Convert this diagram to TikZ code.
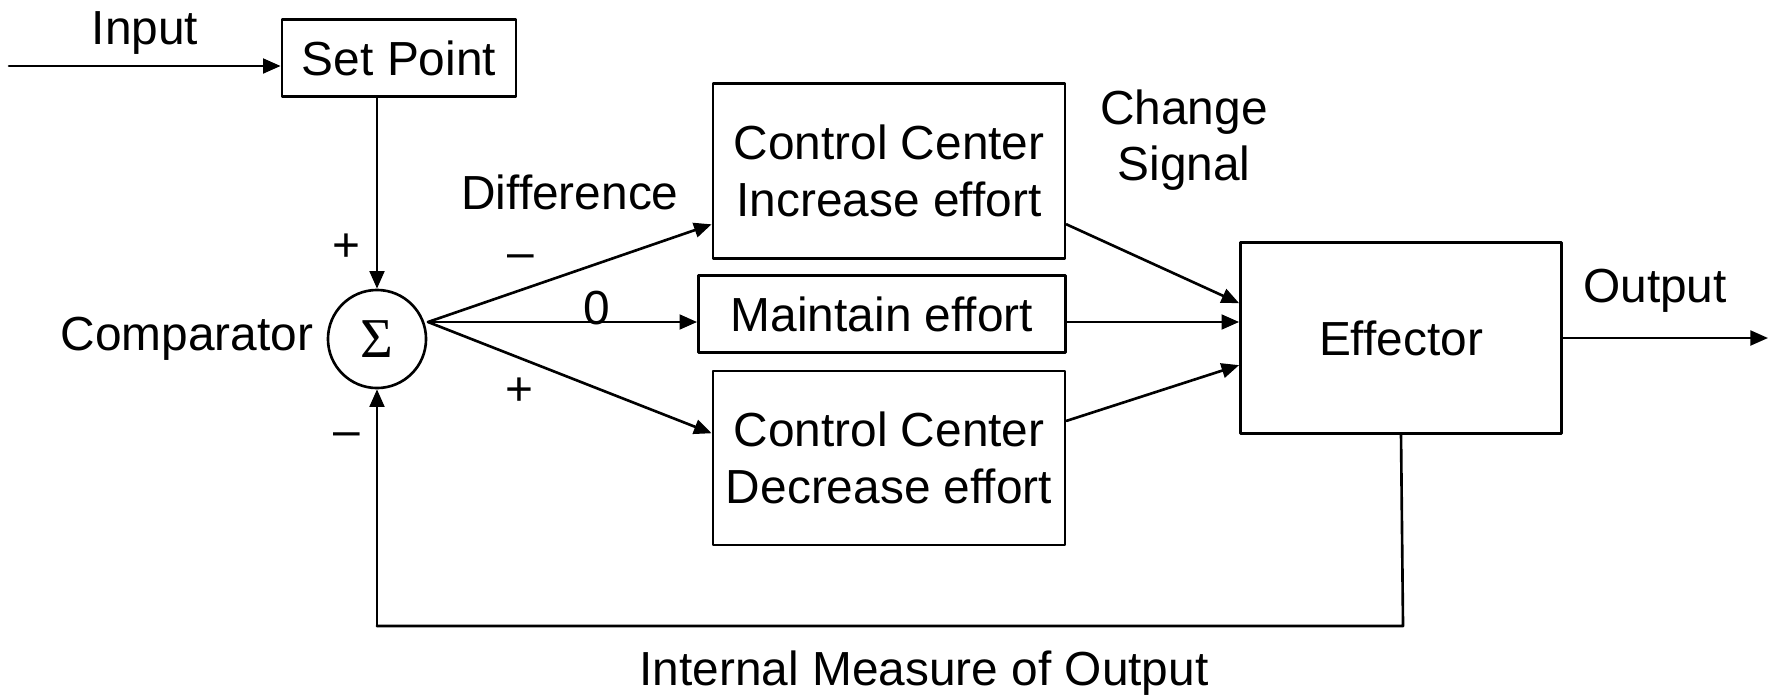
\documentclass[tikz,border=0pt]{standalone}
\usepackage{fontspec}
\setmainfont{Liberation Sans}
\newfontfamily\sigmafont{Liberation Serif}
\usetikzlibrary{arrows.meta,calc}

\begin{document}
\begin{tikzpicture}[
   x=0.01cm,
   y=-0.01cm,
   line cap=round,
   line join=round,
   every node/.style={font=\fontsize{13.6}{16}\selectfont},
   block/.style={draw,line width=0.75pt,inner sep=0pt,align=center},
   flow/.style={line width=0.75pt,-{Triangle[length=5pt,width=4.2pt]}},
   wire/.style={line width=0.75pt}
 ]
   \useasboundingbox (0,0) rectangle (1777,694);

   % Blocks of the loop.
   \node[block,minimum width=2.34cm,minimum height=0.77cm] (setpt) at (399,58) {Set Point};
   \node[draw,circle,line width=0.75pt,minimum size=0.98cm,inner sep=0pt] (sum) at (377,339)
     {\sigmafont\fontsize{16}{16}\selectfont Σ};
   \node[block,minimum width=3.52cm,minimum height=1.75cm] (incr) at (889,171) {Control Center\\Increase effort};
   \node[block,minimum width=3.67cm,minimum height=0.77cm] (keep) at (882,314) {Maintain effort};
   \node[block,minimum width=3.52cm,minimum height=1.74cm] (decr) at (889,458) {Control Center\\Decrease effort};
   \node[block,minimum width=3.21cm,minimum height=1.91cm] (eff) at (1401,338) {Effector};

   % Free ends and corners.
   \coordinate (in) at (9,66);
   \coordinate (split) at (428,322);
   \coordinate (out) at (1768,338);
   \coordinate (fbr) at (1403,626);
   \coordinate (fbl) at (377,626);

   % Signal paths.
   \draw[flow] (in) -- (in -| setpt.west);
   \draw[flow] (sum |- setpt.south) -- (sum.north);
   \draw[flow] (split) -- ($(incr.south west)!0.2!(incr.north west)$);
   \draw[flow] (split) -- (split -| keep.west);
   \draw[flow] (split) -- ($(decr.north west)!0.36!(decr.south west)$);
   \draw[flow] ($(incr.south east)!0.2!(incr.north east)$) -- ($(eff.north west)!0.32!(eff.south west)$);
   \draw[flow] (keep.east |- split) -- (eff.west |- split);
   \draw[flow] ($(decr.north east)!0.29!(decr.south east)$) -- ($(eff.north west)!0.64!(eff.south west)$);
   \draw[flow] (eff.east) -- (out);

   % Feedback of the measured output.
   \draw[wire] (eff.south) -- (fbr) -- (fbl);
   \draw[flow] (fbl) -- (sum.south);

   % Labels.
   \node (lblin) at (145,33) {Input};
   \node (lblcmp) at (187,339) {Comparator};
   \node (lblsp) at (346,248) {+};
   \node (lblfb) at (347,440) {–};
   \node (lbldiff) at (570,192) {Difference};
   \node (lblneg) at (521,262) {–};
   \node (lblzero) at (597,308) {0};
   \node (lblpos) at (519,392) {+};
   \node[align=center] (lblchg) at (1184,140) {Change\\Signal};
   \node (lblout) at (1655,291) {Output};
   \node (lblint) at (924,673) {Internal Measure of Output};
 \end{tikzpicture}
\end{document}
